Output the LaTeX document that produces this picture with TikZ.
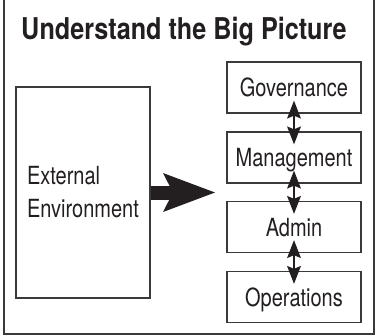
\documentclass[tikz,border=0pt]{standalone}
\usepackage{fontspec}
\setmainfont{TeX Gyre Heros}[FakeStretch=0.8]
\newfontfamily\titlefont{TeX Gyre Heros}[FakeStretch=0.84]
\usetikzlibrary{arrows.meta}
\definecolor{ink}{HTML}{231F20}
\definecolor{boxc}{HTML}{3A3A3A}
\begin{document}
\begin{tikzpicture}[x=1pt,y=-1pt,
  frame/.style={draw=boxc, line width=2pt},
  lvl/.style={draw=boxc, line width=1.3pt, fill=white, text=ink,
    minimum width=134pt, minimum height=51pt, inner sep=0pt,
    font=\fontsize{25}{30}\selectfont, text height=18pt, text depth=0pt},
  extbox/.style={draw=boxc, line width=1.3pt, fill=white, text=ink,
    minimum width=134pt, minimum height=211pt, inner sep=0pt, align=left,
    font=\fontsize{25}{33}\selectfont},
  dbl/.style={draw=ink, line width=2.2pt,
    {Stealth[length=18pt,width=14pt,inset=3pt,line width=0pt]}-{Stealth[length=18pt,width=14pt,inset=3pt,line width=0pt]}},
  bigarrow/.style={draw=ink, line width=14pt,
    -{Stealth[length=52pt,width=39pt,inset=10pt,line width=0pt]}},
  titletext/.style={anchor=base west, inner sep=0pt, text=ink,
    font=\titlefont\fontsize{30}{34}\selectfont\bfseries}
]
\useasboundingbox (0,0) rectangle (378,335);
\draw[frame] (3.5,0) -- (3.5,333.5) -- (374,333.5) -- (374,0);
\node[titletext] (title) at (21,39) {Understand the Big Picture};
\node[extbox] (ext) at (83,192.5) {External\\Environment};
\node[lvl] (gov) at (294,87.5) {Governance};
\node[lvl] (mgmt) at (294,157.5) {Management};
\node[lvl] (admin) at (294,227) {Admin};
\node[lvl] (ops) at (294,297) {Operations};
\coordinate (tip) at (215,192.5);
\draw[bigarrow] (ext.east) -- (tip);
\draw[dbl] ([yshift=13pt]gov.south) -- ([yshift=-13pt]mgmt.north);
\draw[dbl] ([yshift=13pt]mgmt.south) -- ([yshift=-13pt]admin.north);
\draw[dbl] ([yshift=13pt]admin.south) -- ([yshift=-13pt]ops.north);
\end{tikzpicture}
\end{document}
